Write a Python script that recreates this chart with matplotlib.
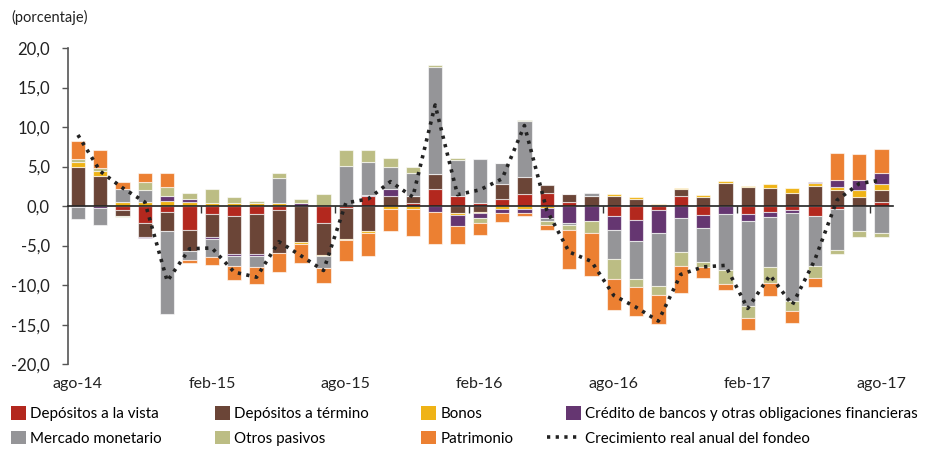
"""Composición del crecimiento del fondeo (barras apiladas + línea punteada)."""

import numpy as np
import matplotlib
matplotlib.use("Agg")
from matplotlib import pyplot as plt
from matplotlib.ticker import FuncFormatter
from matplotlib.patches import Patch
from matplotlib.lines import Line2D
from matplotlib.legend_handler import HandlerBase

plt.rcParams["font.family"] = ["Lato", "DejaVu Sans"]

months = [
    "ago-14", "sep-14", "oct-14", "nov-14", "dic-14", "ene-15", "feb-15", "mar-15",
    "abr-15", "may-15", "jun-15", "jul-15", "ago-15", "sep-15", "oct-15", "nov-15",
    "dic-15", "ene-16", "feb-16", "mar-16", "abr-16", "may-16", "jun-16", "jul-16",
    "ago-16", "sep-16", "oct-16", "nov-16", "dic-16", "ene-17", "feb-17", "mar-17",
    "abr-17", "may-17", "jun-17", "jul-17", "ago-17",
]

# contribuciones (puntos porcentuales)
vista = [0, -0.05, -0.55, -2.2, -0.7, -3.05, -1.05, -1.2, -1.05, -0.5, 0, -2.15, -0.25,
         1.25, 0, 0.4, 2.2, 1.25, 0.4, 0.9, 1.5, 1.7, 0.55, 0, -1.2, -1.75, -0.45, 1.25,
         -1.15, 0, -1.0, -0.8, -0.5, -1.2, -0.4, 0, 0.55]
termino = [5.0, 3.85, -0.65, -1.65, -2.5, -2.65, -2.85, -4.8, -4.95, -5.45, -4.55, -4.0,
           -3.9, -3.1, 1.25, 0.9, 1.85, -0.9, -0.7, 1.85, 2.2, 0.95, 0.95, 1.3, 1.3, 0.95,
           0.15, 0.95, 1.2, 2.95, 2.45, 2.25, 1.7, 2.55, 2.0, 1.1, 1.5]
bonos = [0.55, 0.6, 0.5, 0.55, 0.6, 0.5, 0.35, 0.4, 0.35, 0.4, -0.2, -0.2, -0.2, -0.25,
         -0.4, -0.35, 0, -0.2, -0.2, -0.35, -0.35, -0.25, 0, 0, 0.2, 0.2, 0.1, 0.15, 0.15,
         0.2, 0.15, 0.55, 0.55, 0.35, 0.4, 0.95, 0.75]
credito = [-0.1, -0.15, 0, -0.2, 0.7, 0.35, -0.25, -0.3, -0.35, 0, 0.4, 0, 0.2, 0.15,
           0.95, 0, -0.7, -1.45, -0.55, -0.5, -0.5, -1.2, -2.2, -1.9, -1.85, -2.7, -2.95,
           -1.55, -1.65, -1.0, -0.9, -0.6, -0.35, 0.2, 0.85, 1.25, 1.4]
mercado = [-1.5, -2.2, 1.65, 1.5, -10.4, -1.15, -2.35, -1.25, -1.4, 3.2, 0, -1.45, 4.85,
           4.2, 2.75, 2.85, 13.55, 4.6, 5.5, 2.75, 7.05, -0.4, -0.25, 0.4, -3.65, -4.75,
           -6.75, -4.2, -4.3, -7.1, -10.75, -6.35, -11.2, -6.35, -5.2, -3.15, -3.4]
otros = [0.4, 0.4, -0.2, 1.0, 1.15, 0.8, 1.8, 0.7, 0.3, 0.55, 0.55, 1.5, 2.05, 1.5, 1.1,
         0.75, 0.2, 0.2, -0.75, 0, 0.2, -0.6, -0.6, -1.5, -2.55, -1.1, -1.15, -1.8, -0.65,
         -1.7, -1.5, -2.0, -1.25, -1.5, -0.5, -0.75, -0.5]
patrimonio = [2.35, 2.2, 0.95, 1.2, 1.8, -0.35, -0.9, -1.8, -2.05, -2.4, -2.45, -1.95,
              -2.55, -3.0, -2.7, -3.45, -4.05, -2.2, -1.45, -1.15, -0.4, -0.55, -4.95,
              -5.45, -3.95, -3.65, -3.65, -3.45, -1.35, -0.85, -1.5, -1.6, -1.45, -1.25,
              3.5, 3.3, 3.0]
fondeo = [9.0, 4.4, 2.3, 0.5, -9.5, -5.4, -5.3, -8.35, -9.0, -4.5, -6.3, -8.15, 0.4, 0.9,
          3.1, 1.15, 12.8, 1.45, 2.05, 3.45, 10.2, -0.5, -5.8, -7.0, -11.3, -12.8, -14.55,
          -8.65, -7.7, -7.5, -12.95, -8.75, -12.5, -6.85, 0.75, 2.85, 3.3]

series = [
    ("Depósitos a la vista", vista, "#B3281E"),
    ("Depósitos a término", termino, "#6B4537"),
    ("Bonos", bonos, "#EFB316"),
    ("Crédito de bancos y otras obligaciones financieras", credito, "#653671"),
    ("Mercado monetario", mercado, "#959598"),
    ("Otros pasivos", otros, "#BCBD84"),
    ("Patrimonio", patrimonio, "#EC8032"),
]

DOTS = (0, (0.9, 1.5))


class LongLineHandler(HandlerBase):
    # dotted handle that reaches further left than the square patches
    def create_artists(self, legend, orig_handle, xdescent, ydescent, width, height,
                       fontsize, trans):
        y = height / 2 - ydescent
        line = Line2D([-xdescent - 1.3 * fontsize, width - xdescent], [y, y],
                      color=orig_handle.get_color(), lw=orig_handle.get_linewidth(),
                      linestyle=DOTS)
        line.set_transform(trans)
        return [line]


fig = plt.figure(figsize=(9.3, 4.49), dpi=100)
ax = fig.add_axes([0.073, 0.189, 0.887, 0.704])

x = np.arange(len(months))
pos_base = np.zeros(len(months))
neg_base = np.zeros(len(months))
handles = {}
for name, vals, color in series:
    v = np.array(vals, dtype=float)
    base = np.where(v >= 0, pos_base, neg_base)
    ax.bar(x, v, bottom=base, width=0.64, color=color,
           edgecolor=(1, 1, 1, 0.6), linewidth=0.8, zorder=2)
    pos_base += np.clip(v, 0, None)
    neg_base += np.clip(v, None, 0)
    handles[name] = Patch(facecolor=color, edgecolor="none")

line_name = "Crecimiento real anual del fondeo"
ax.plot(x, fondeo, color="#222222", lw=2.6, linestyle=DOTS, zorder=4)
handles[line_name] = Line2D([], [], color="#222222", lw=2.6, linestyle=DOTS)

ax.set_xlim(-0.45, len(months) - 0.5)
ax.set_ylim(-20, 20)
ax.set_yticks(np.arange(-20, 21, 5))
ax.yaxis.set_major_formatter(FuncFormatter(lambda v, _: f"{v:.1f}".replace(".", ",")))
ax.set_xticks(x[::6])
ax.set_xticklabels(months[::6])
ax.tick_params(axis="x", length=0, pad=9, labelsize=11.5, labelcolor="#222222")
ax.tick_params(axis="y", direction="out", length=4, width=1, color="#555555",
               labelsize=12, labelcolor="#222222", pad=9)
for side in ("top", "right", "bottom"):
    ax.spines[side].set_visible(False)
ax.spines["left"].set_color("#555555")
ax.spines["left"].set_linewidth(1.2)

# eje en cero con marcas semestrales
zero = ax.secondary_xaxis(0.5)
zero.set_zorder(3)
zero.set_xticks(x[6::6] - 0.5)
zero.tick_params(direction="in", length=5, width=1, color="#333333", labeltop=False,
                 labelbottom=False)
for side in ("top", "bottom"):
    zero.spines[side].set_color("#222222")
    zero.spines[side].set_linewidth(1.2)

fig.text(0.012, 0.962, "(porcentaje)", fontsize=10.5, color="#222222", va="center")

order = ["Depósitos a la vista", "Mercado monetario", "Depósitos a término", "Otros pasivos",
         "Bonos", "Patrimonio", "Crédito de bancos y otras obligaciones financieras", line_name]
fig.legend([handles[n] for n in order], order, ncol=4, loc="upper left",
           bbox_to_anchor=(0.012, 0.095), frameon=False, fontsize=10.9,
           handlelength=1.0, handleheight=1.0, handletextpad=0.25,
           columnspacing=3.5, labelspacing=0.62, borderaxespad=0, borderpad=0,
           handler_map={handles[line_name]: LongLineHandler()})

fig.savefig("out.png", dpi=100)
plt.close(fig)
